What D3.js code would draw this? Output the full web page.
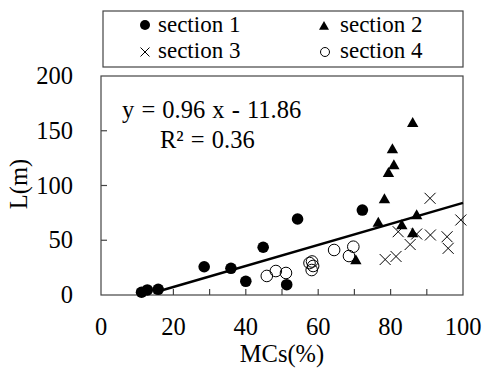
<!DOCTYPE html>
<html>
<head>
<script src="https://d3js.org/d3.v7.min.js"></script>
<style>
  body { margin: 0; background: white; }
</style>
</head>
<body>
<div id="chart"></div>
<script>
// data: [MCs %, L m]
var section1 = [[11.2,2.5],[12.8,4.6],[15.8,5.2],[28.5,25.8],[35.9,24.4],[40.0,12.5],
                [44.8,43.6],[54.3,69.4],[51.3,9.4],[72.2,77.6]];
var section2 = [[86.1,157.4],[80.5,133.3],[80.9,118.7],[79.4,111.7],[78.3,87.7],
                [76.6,66.2],[83.1,63.9],[87.2,73.1],[86.1,56.6],[70.4,32.0]];
var section3 = [[90.9,88.3],[99.4,68.5],[82.1,57.8],[87.2,55.7],[91.0,54.8],
                [95.6,53.2],[95.9,42.6],[85.4,46.1],[78.5,32.4],[81.5,35.2]];
var section4 = [[45.8,17.4],[48.3,21.9],[51.1,20.1],[57.6,29.2],[58.3,30.6],
                [58.2,22.8],[58.6,26.5],[64.4,41.1],[69.7,44.1],[68.5,35.6]];
var xTicks = [0, 20, 40, 60, 80, 100];
var xMinor = [10, 20, 30, 40, 50, 60, 70, 80, 90];
var yTicks = [0, 50, 100, 150, 200];
var fit = {slope: 0.96, intercept: -11.86, from: 14.5, to: 100};
var legendItems = ["section 1", "section 2", "section 3", "section 4"];

var W = 484, H = 369, fs = 24.5;
var svg = d3.select("#chart").append("svg").attr("width", W).attr("height", H)
  .attr("font-family", "'Liberation Serif', 'Times New Roman', 'DejaVu Serif', serif")
  .attr("fill", "#000");

var x = d3.scaleLinear().domain([0, 100]).range([101, 463]);
var y = d3.scaleLinear().domain([0, 200]).range([295, 76]);
var axisColor = "#444";

// plot frame
svg.append("rect")
  .attr("x", x(0)).attr("y", y(200))
  .attr("width", x(100) - x(0)).attr("height", y(0) - y(200))
  .attr("fill", "none").attr("stroke", axisColor).attr("stroke-width", 1.2);

// inward ticks
svg.selectAll(".xt").data(xMinor).enter().append("line")
  .attr("x1", d => x(d)).attr("x2", d => x(d))
  .attr("y1", y(0)).attr("y2", y(0) - 6)
  .attr("stroke", axisColor).attr("stroke-width", 1.2);
svg.selectAll(".yt").data(yTicks.slice(1, -1)).enter().append("line")
  .attr("x1", x(0)).attr("x2", x(0) + 6)
  .attr("y1", d => y(d)).attr("y2", d => y(d))
  .attr("stroke", axisColor).attr("stroke-width", 1.2);

// tick labels
svg.selectAll(".xl").data(xTicks).enter().append("text")
  .attr("x", d => x(d)).attr("y", 335)
  .attr("text-anchor", "middle").attr("font-size", fs)
  .text(d => d);
svg.selectAll(".yl").data(yTicks).enter().append("text")
  .attr("x", 73).attr("y", d => y(d) + 8)
  .attr("text-anchor", "end").attr("font-size", fs)
  .text(d => d);

// axis titles
svg.append("text").attr("x", 282).attr("y", 362)
  .attr("text-anchor", "middle").attr("font-size", fs).text("MCs(%)");
svg.append("text").attr("transform", "translate(27,184) rotate(-90)")
  .attr("text-anchor", "middle").attr("font-size", fs).text("L(m)");

// trend line
svg.append("line")
  .attr("x1", x(fit.from)).attr("y1", y(fit.slope * fit.from + fit.intercept))
  .attr("x2", x(fit.to)).attr("y2", y(fit.slope * fit.to + fit.intercept))
  .attr("stroke", "#000").attr("stroke-width", 2.5);

// equation
svg.append("text").attr("x", 122).attr("y", 117.5).attr("font-size", fs)
  .attr("word-spacing", 1)
  .text("y = 0.96 x - 11.86");
svg.append("text").attr("x", 160).attr("y", 148).attr("font-size", fs)
  .attr("word-spacing", 1)
  .text("R² = 0.36");

// markers
function circleFilled(g, cx, cy, r) {
  g.append("circle").attr("cx", cx).attr("cy", cy).attr("r", r).attr("fill", "#000");
}
function circleOpen(g, cx, cy, r) {
  g.append("circle").attr("cx", cx).attr("cy", cy).attr("r", r)
    .attr("fill", "none").attr("stroke", "#000").attr("stroke-width", 1);
}
function triangle(g, cx, cy, s) {
  g.append("path").attr("d", "M" + cx + "," + (cy - s) + "L" + (cx + s) + "," + (cy + s * 0.75) +
    "L" + (cx - s) + "," + (cy + s * 0.75) + "Z").attr("fill", "#000");
}
function cross(g, cx, cy, s) {
  g.append("path").attr("d", "M" + (cx - s) + "," + (cy - s) + "L" + (cx + s) + "," + (cy + s) +
    "M" + (cx - s) + "," + (cy + s) + "L" + (cx + s) + "," + (cy - s))
    .attr("stroke", "#000").attr("stroke-width", 1).attr("fill", "none");
}

var pts = svg.append("g");
section4.forEach(d => circleOpen(pts, x(d[0]), y(d[1]), 5.8));
section3.forEach(d => cross(pts, x(d[0]), y(d[1]), 5.5));
section1.forEach(d => circleFilled(pts, x(d[0]), y(d[1]), 5.8));
section2.forEach(d => triangle(pts, x(d[0]), y(d[1]), 5.7));

// legend
svg.append("rect").attr("x", 103).attr("y", 11).attr("width", 360).attr("height", 56)
  .attr("fill", "white").attr("stroke", axisColor).attr("stroke-width", 1.2);
var lg = svg.append("g");
var lpos = [[145, 25], [324, 25], [145, 52], [325, 52]];
circleFilled(lg, lpos[0][0], lpos[0][1], 5);
triangle(lg, lpos[1][0], lpos[1][1] + 1, 5);
cross(lg, lpos[2][0], lpos[2][1], 4.5);
circleOpen(lg, lpos[3][0], lpos[3][1], 4.5);
legendItems.forEach(function(t, i) {
  lg.append("text").attr("x", i % 2 ? 340 : 158).attr("y", i < 2 ? 32 : 58)
    .attr("font-size", 23).text(t);
});
</script>
</body>
</html>
